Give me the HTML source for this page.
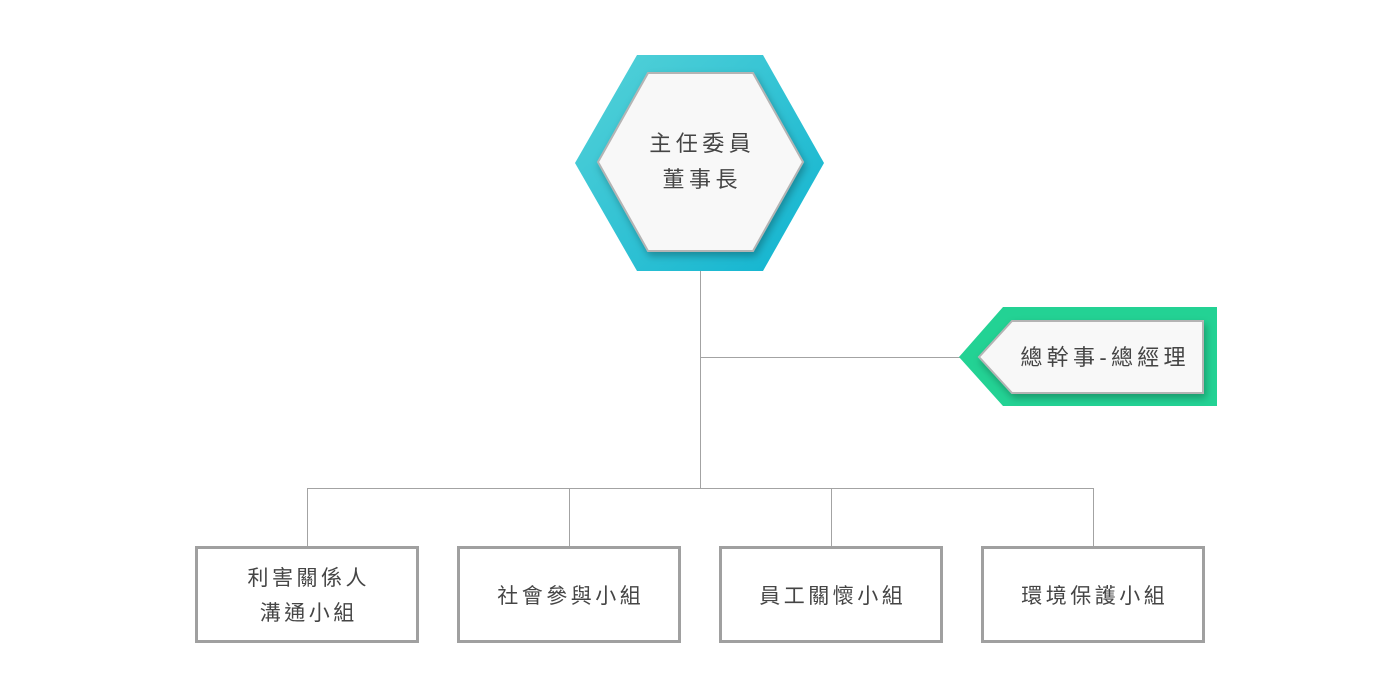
<!DOCTYPE html>
<html><head><meta charset="utf-8">
<style>
html,body{margin:0;padding:0;background:#fff;}
#c{position:relative;width:1400px;height:694px;overflow:hidden;background:#fff;}
svg{position:absolute;left:0;top:0;}
.t{position:absolute;font-family:"Liberation Sans","Noto Sans CJK TC","Noto Sans CJK SC",sans-serif;color:#454545;text-align:center;white-space:nowrap;line-height:1;}
</style></head>
<body><div id="c">
<svg width="1400" height="694" viewBox="0 0 1400 694">
<defs>
<linearGradient id="g1" x1="0" y1="0" x2="1" y2="1">
<stop offset="0" stop-color="#55d2d8"/>
<stop offset="1" stop-color="#0fb3d0"/>
</linearGradient>
<filter id="sh" x="-20%" y="-20%" width="140%" height="150%">
<feDropShadow dx="2" dy="4" stdDeviation="4" flood-color="#000" flood-opacity="0.28"/>
</filter>
</defs>
<g stroke="#a3a3a3" stroke-width="1" fill="none">
<line x1="700.5" y1="270" x2="700.5" y2="488"/>
<line x1="700" y1="357.5" x2="962" y2="357.5"/>
<line x1="307" y1="488.5" x2="1094" y2="488.5"/>
<line x1="307.5" y1="488" x2="307.5" y2="546"/>
<line x1="569.5" y1="488" x2="569.5" y2="546"/>
<line x1="831.5" y1="488" x2="831.5" y2="546"/>
<line x1="1093.5" y1="488" x2="1093.5" y2="546"/>
</g>
<polygon points="637,55 763,55 824,163 763,271 637,271 575,163" fill="url(#g1)"/>
<polygon points="648,73 753,73 803,162 753,251 648,251 598,162" fill="#f8f8f8" stroke="#b4b4b4" stroke-width="2" filter="url(#sh)"/>
<polygon points="1003,307 1217,307 1217,406 1003,406 959,357" fill="#23d294"/>
<polygon points="1012,321 1203,321 1203,393 1012,393 979,357" fill="#f8f8f8" stroke="#b4b4b4" stroke-width="2" filter="url(#sh)"/>
<g fill="#fff" stroke="#a0a0a0" stroke-width="3">
<rect x="196.5" y="547.5" width="221" height="94"/>
<rect x="458.5" y="547.5" width="221" height="94"/>
<rect x="720.5" y="547.5" width="221" height="94"/>
<rect x="982.5" y="547.5" width="221" height="94"/>
</g>
</svg>

<div class="t" style="left:600px;top:133px;width:200px;font-size:22px;letter-spacing:4.5px;padding-left:4.5px;box-sizing:border-box;">主任委員</div>
<div class="t" style="left:600px;top:169px;width:200px;font-size:22px;letter-spacing:4.5px;padding-left:4.5px;box-sizing:border-box;">董事長</div>

<div class="t" style="left:1003px;top:347px;width:200px;font-size:22px;letter-spacing:4.3px;padding-left:4.3px;box-sizing:border-box;">總幹事-總經理</div>

<div class="t" style="left:196px;top:568px;width:222px;font-size:21px;letter-spacing:3.5px;padding-left:3.5px;box-sizing:border-box;">利害關係人</div>
<div class="t" style="left:196px;top:603px;width:222px;font-size:21px;letter-spacing:3.5px;padding-left:3.5px;box-sizing:border-box;">溝通小組</div>
<div class="t" style="left:458px;top:586px;width:222px;font-size:21px;letter-spacing:3.5px;padding-left:3.5px;box-sizing:border-box;">社會參與小組</div>
<div class="t" style="left:720px;top:586px;width:222px;font-size:21px;letter-spacing:3.5px;padding-left:3.5px;box-sizing:border-box;">員工關懷小組</div>
<div class="t" style="left:982px;top:586px;width:222px;font-size:21px;letter-spacing:3.5px;padding-left:3.5px;box-sizing:border-box;">環境保護小組</div>
</div></body></html>
